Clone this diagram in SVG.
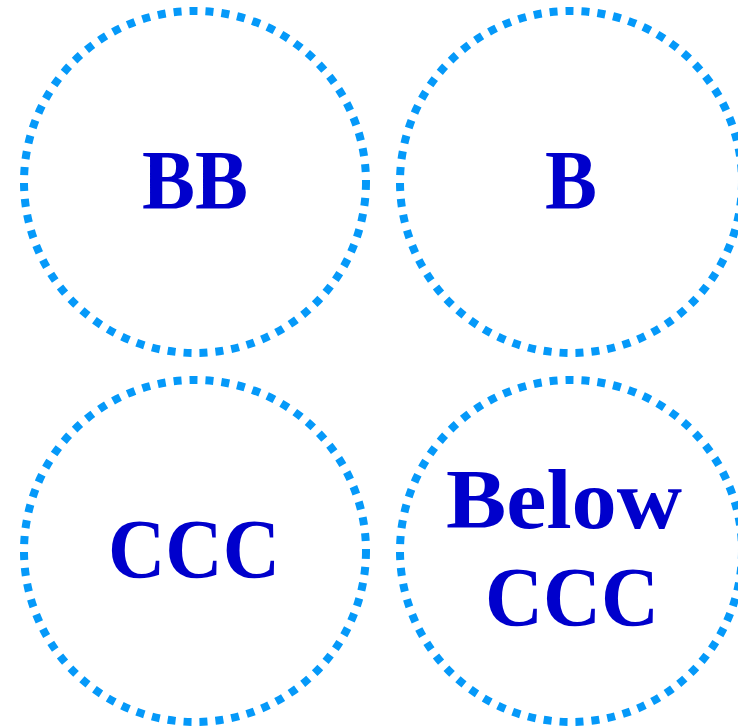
<svg xmlns="http://www.w3.org/2000/svg" width="738" height="727" viewBox="0 0 738 727">
<style>
.node circle{fill:none;stroke:#0599f9;stroke-width:8;stroke-dasharray:8 8}
.node text{font-family:"Liberation Serif","Times New Roman",serif;font-weight:bold;font-size:84px;fill:#0000cc;text-anchor:middle}
</style>
<rect width="738" height="727" fill="#fff"/>
<g id="connectors"/>
<g id="node-BB" class="node"><circle cx="195" cy="182" r="171"/><text x="195" y="209" textLength="106" lengthAdjust="spacingAndGlyphs">BB</text></g>
<g id="node-B" class="node"><circle cx="571" cy="182" r="171"/><text x="571" y="209" textLength="52" lengthAdjust="spacingAndGlyphs">B</text></g>
<g id="node-CCC" class="node"><circle cx="195" cy="551" r="171"/><text x="194" y="578" textLength="172" lengthAdjust="spacingAndGlyphs">CCC</text></g>
<g id="node-BelowCCC" class="node"><circle cx="571" cy="551" r="171"/><text x="564" y="528" textLength="236" lengthAdjust="spacingAndGlyphs">Below</text><text x="572" y="626" textLength="174" lengthAdjust="spacingAndGlyphs">CCC</text></g>
</svg>
